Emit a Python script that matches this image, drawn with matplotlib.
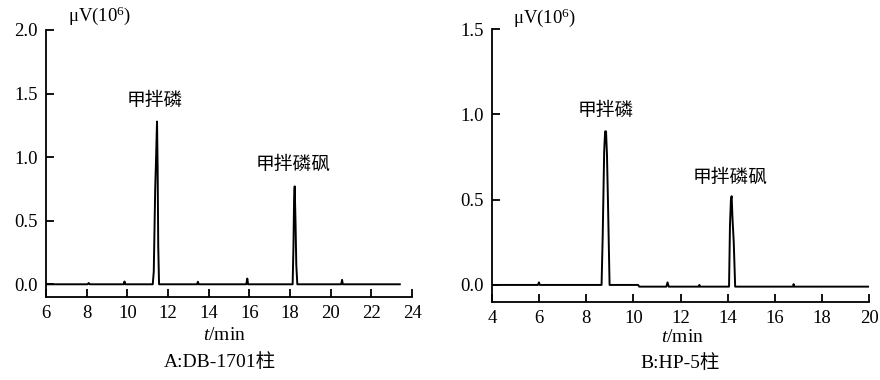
import matplotlib
matplotlib.use('Agg')
import matplotlib.pyplot as plt
from matplotlib.ticker import FormatStrFormatter

plt.rcParams['font.family'] = ['Liberation Serif', 'Noto Sans CJK SC']
plt.rcParams['mathtext.fontset'] = 'custom'
plt.rcParams['mathtext.rm'] = 'Liberation Serif'
plt.rcParams['mathtext.it'] = 'Liberation Serif:italic'

# A: DB-1701 柱 色谱图 (时间 min, 信号 μV×10^6)
time_a = [6.0, 8.05, 8.1, 8.15, 9.82, 9.86, 9.9, 11.25, 11.3, 11.37, 11.41, 11.46,
          11.49, 11.52, 11.56, 13.43, 13.47, 13.51, 15.85, 15.9, 15.94, 18.13, 18.17,
          18.2, 18.23, 18.27, 18.31, 18.36, 20.52, 20.56, 20.6, 23.4]
signal_a = [0.0, 0.0, 0.01, 0.0, 0.0, 0.022, 0.0, 0.0, 0.1, 0.75, 0.97, 1.28,
            0.92, 0.3, 0.0, 0.0, 0.02, 0.0, 0.0, 0.045, 0.0, 0.0, 0.3,
            0.66, 0.77, 0.5, 0.15, 0.0, 0.0, 0.035, 0.0, 0.0]

# B: HP-5 柱 色谱图
time_b = [4.0, 5.95, 5.99, 6.03, 8.65, 8.7, 8.76, 8.8, 8.84, 8.88, 8.92, 8.99,
          10.2, 10.25, 11.4, 11.45, 11.5, 12.78, 12.8, 12.83, 14.06, 14.1, 14.14,
          14.17, 14.21, 14.26, 14.32, 16.78, 16.8, 16.83, 20.0]
signal_b = [0.0, 0.0, 0.015, 0.0, 0.0, 0.3, 0.78, 0.9, 0.9, 0.76, 0.5, 0.0,
            0.0, -0.01, -0.01, 0.015, -0.01, -0.01, 0.0, -0.01, -0.01, 0.35, 0.5,
            0.52, 0.38, 0.25, -0.01, -0.01, 0.005, -0.01, -0.01]

fig = plt.figure(figsize=(8.8, 3.8), dpi=100)
ax1 = fig.add_axes([46 / 880, 1 - 297 / 380, 366 / 880, 267 / 380])
ax2 = fig.add_axes([492 / 880, 1 - 302 / 380, 377 / 880, 273 / 380])

panels = [
    (ax1, time_a, signal_a, (6, 24), 2.0, [(11.36, 1.45, '甲拌磷'), (18.14, 0.94, '甲拌磷砜')]),
    (ax2, time_b, signal_b, (4, 20), 1.5, [(8.81, 1.02, '甲拌磷'), (14.12, 0.63, '甲拌磷砜')]),
]

for ax, t, s, xlim, ymax, labels in panels:
    ax.plot(t, s, color='black', linewidth=1.4)
    ax.set_xlim(*xlim)
    ax.set_ylim(-0.1, ymax)
    ax.set_xticks(range(xlim[0], xlim[1] + 1, 2))
    ax.set_yticks([i * 0.5 for i in range(int(ymax / 0.5) + 1)])
    ax.yaxis.set_major_formatter(FormatStrFormatter('%.1f'))
    ax.spines['top'].set_visible(False)
    ax.spines['right'].set_visible(False)
    ax.spines['left'].set_bounds(-0.1, ymax)
    for sp in ('left', 'bottom'):
        ax.spines[sp].set_linewidth(1.3)
    ax.tick_params(direction='in', length=6, width=1.3, labelsize=13.5, pad=6)
    for x, y, txt in labels:
        ax.text(x, y, txt, ha='center', va='center', fontsize=13.5,
                family=['Noto Sans CJK SC'])

fig.text(68 / 880, 1 - 16 / 380, 'μV(10$^{6}$)', fontsize=13.5, va='center')
fig.text(513 / 880, 1 - 18 / 380, 'μV(10$^{6}$)', fontsize=13.5, va='center')
fig.text(224 / 880, 1 - 336 / 380, '$t$/min', fontsize=14, ha='center', va='center')
fig.text(682 / 880, 1 - 338 / 380, '$t$/min', fontsize=14, ha='center', va='center')
fig.text(220 / 880, 1 - 362 / 380, 'A:DB-1701柱', fontsize=14, ha='center', va='center')
fig.text(680 / 880, 1 - 363 / 380, 'B:HP-5柱', fontsize=14, ha='center', va='center')

fig.savefig('out.png', dpi=100)
